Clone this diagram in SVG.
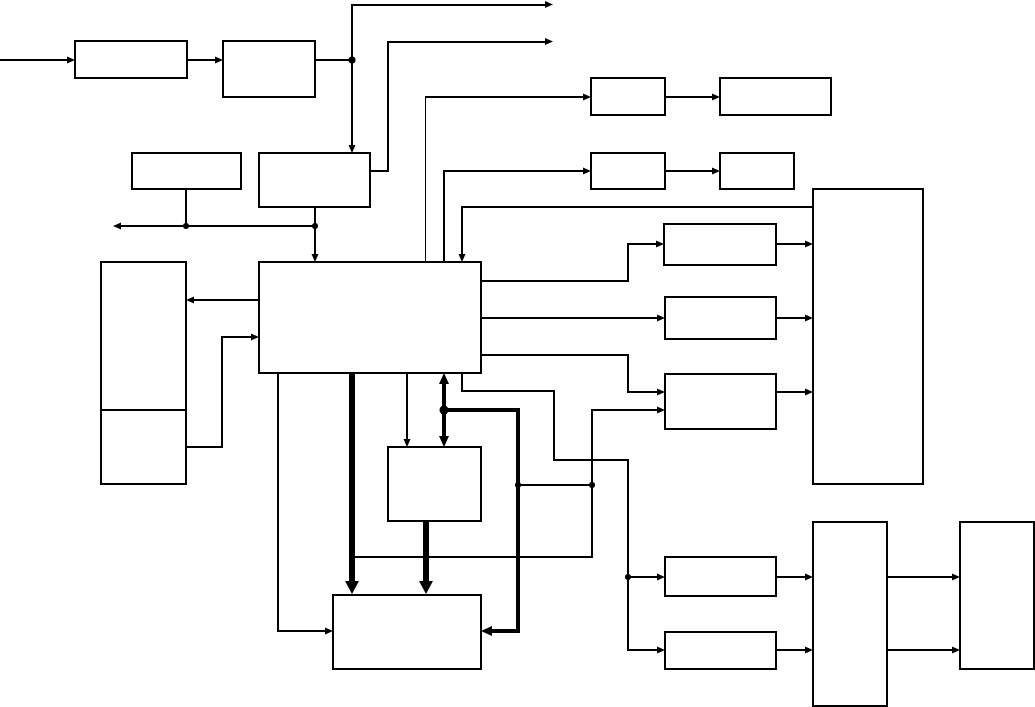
<svg xmlns="http://www.w3.org/2000/svg" width="1035" height="707" viewBox="0 0 1035 707">
<style>
.box{fill:#fff;stroke:#000;stroke-width:1.6;shape-rendering:crispEdges}
.c{fill:none;stroke:#000;stroke-linejoin:miter;shape-rendering:crispEdges}
.w1{stroke-width:1.2}
.w2{stroke-width:2}
.w4{stroke-width:4}
.w6{stroke-width:6}
.ar{marker-end:url(#a)}
.dot{fill:#000}
</style>
<defs>
<marker id="a" markerUnits="userSpaceOnUse" markerWidth="8" markerHeight="8" viewBox="0 0 8 8" refX="0" refY="4" orient="auto"><path d="M0,0.5 L8,4 L0,7.5 z" fill="#000"/></marker>
<marker id="b" markerUnits="userSpaceOnUse" markerWidth="11" markerHeight="10" viewBox="0 0 11 10" refX="0" refY="5" orient="auto-start-reverse"><path d="M0,0 L11,5 L0,10 z" fill="#000"/></marker>
<marker id="c" markerUnits="userSpaceOnUse" markerWidth="13" markerHeight="14" viewBox="0 0 13 14" refX="0" refY="7" orient="auto"><path d="M0,0 L13,7 L0,14 z" fill="#000"/></marker>
</defs>
<g id="nodes">
<g id="nA"><rect class="box" x="75" y="41" width="112" height="37"/></g>
<g id="nB"><rect class="box" x="223" y="41" width="92" height="56"/></g>
<g id="nC"><rect class="box" x="259" y="153" width="111" height="54"/></g>
<g id="nD"><rect class="box" x="132" y="153" width="109" height="36"/></g>
<g id="nM"><rect class="box" x="259" y="262" width="222" height="111"/></g>
<g id="nL"><rect class="box" x="101" y="262" width="85" height="222"/><line x1="101" y1="410" x2="186" y2="410" stroke="#000" stroke-width="2" shape-rendering="crispEdges"/></g>
<g id="nE"><rect class="box" x="591" y="78" width="74" height="37"/></g>
<g id="nF"><rect class="box" x="720" y="78" width="111" height="37"/></g>
<g id="nG"><rect class="box" x="591" y="153" width="74" height="36"/></g>
<g id="nH"><rect class="box" x="720" y="153" width="74" height="36"/></g>
<g id="nR"><rect class="box" x="813" y="189" width="110" height="295"/></g>
<g id="nI"><rect class="box" x="664" y="224" width="112" height="41"/></g>
<g id="nJ"><rect class="box" x="665" y="297" width="111" height="42"/></g>
<g id="nK"><rect class="box" x="665" y="374" width="111" height="55"/></g>
<g id="nS"><rect class="box" x="388" y="447" width="93" height="74"/></g>
<g id="nT"><rect class="box" x="333" y="595" width="148" height="74"/></g>
<g id="nN"><rect class="box" x="665" y="557" width="111" height="39"/></g>
<g id="nO"><rect class="box" x="665" y="632" width="111" height="37"/></g>
<g id="nP"><rect class="box" x="813" y="522" width="74" height="184"/></g>
<g id="nQ"><rect class="box" x="960" y="522" width="74" height="147"/></g>
</g>
<g id="connectors">
<path class="c w2 ar" d="M0,60 H67"/>
<path class="c w2 ar" d="M187,60 H215"/>
<path class="c w2" d="M315,60 H352"/>
<path class="c w2 ar" d="M352,60 V4.5 H545"/>
<path class="c w2 ar" d="M352,60 V145"/>
<path class="c w2 ar" d="M370,171 H388 V41.5 H545"/>
<path class="c w2" d="M186,189 V226"/>
<path class="c w2 ar" d="M315,226 H121"/>
<path class="c w2 ar" d="M315,207 V254"/>
<path class="c w1 ar" d="M259,300 H194"/>
<path class="c w1 ar" d="M186,447 H222 V337 H251"/>
<path class="c w1" d="M425.5,262 V97"/>
<path class="c w2 ar" d="M425,97 H583"/>
<path class="c w2 ar" d="M665,97 H712"/>
<path class="c w2 ar" d="M444,262 V171 H583"/>
<path class="c w2 ar" d="M665,171 H712"/>
<path class="c w1 ar" d="M813,207 H462 V254"/>
<path class="c w1 ar" d="M481,281 H628 V244 H656"/>
<path class="c w1 ar" d="M776,244 H805"/>
<path class="c w1 ar" d="M481,318 H657"/>
<path class="c w1 ar" d="M776,318 H805"/>
<path class="c w2 ar" d="M481,355 H628 V392 H657"/>
<path class="c w1 ar" d="M776,392 H805"/>
<path class="c w1 ar" d="M462,373 V391 H554 V460 H628 V650 H657"/>
<path class="c w1 ar" d="M628,577 H657"/>
<path class="c w1 ar" d="M776,577 H805"/>
<path class="c w1 ar" d="M776,650 H805"/>
<path class="c w1 ar" d="M887,577 H952"/>
<path class="c w1 ar" d="M887,650 H952"/>
<path class="c w1 ar" d="M407,373 V439"/>
<path class="c w4" d="M444,384 V436" marker-start="url(#b)" marker-end="url(#b)"/>
<path class="c w4" d="M444,410 H518 V631 H492" marker-end="url(#b)"/>
<path class="c w1" d="M518,485 H592"/>
<path class="c w2 ar" d="M592,485 V410 H657"/>
<path class="c w2" d="M592,485 V557 H352"/>
<path class="c w6" d="M352,373 V581" marker-end="url(#c)"/>
<path class="c w6" d="M426,521 V581" marker-end="url(#c)"/>
<path class="c w2 ar" d="M278,373 V631 H325"/>
<circle class="dot" cx="352" cy="60" r="3.5"/>
<circle class="dot" cx="186" cy="226" r="3"/>
<circle class="dot" cx="315" cy="226" r="3"/>
<circle class="dot" cx="444" cy="410" r="4.5"/>
<circle class="dot" cx="518" cy="485" r="3"/>
<circle class="dot" cx="592" cy="485" r="3"/>
<circle class="dot" cx="628" cy="577" r="3"/>
</g>
</svg>
